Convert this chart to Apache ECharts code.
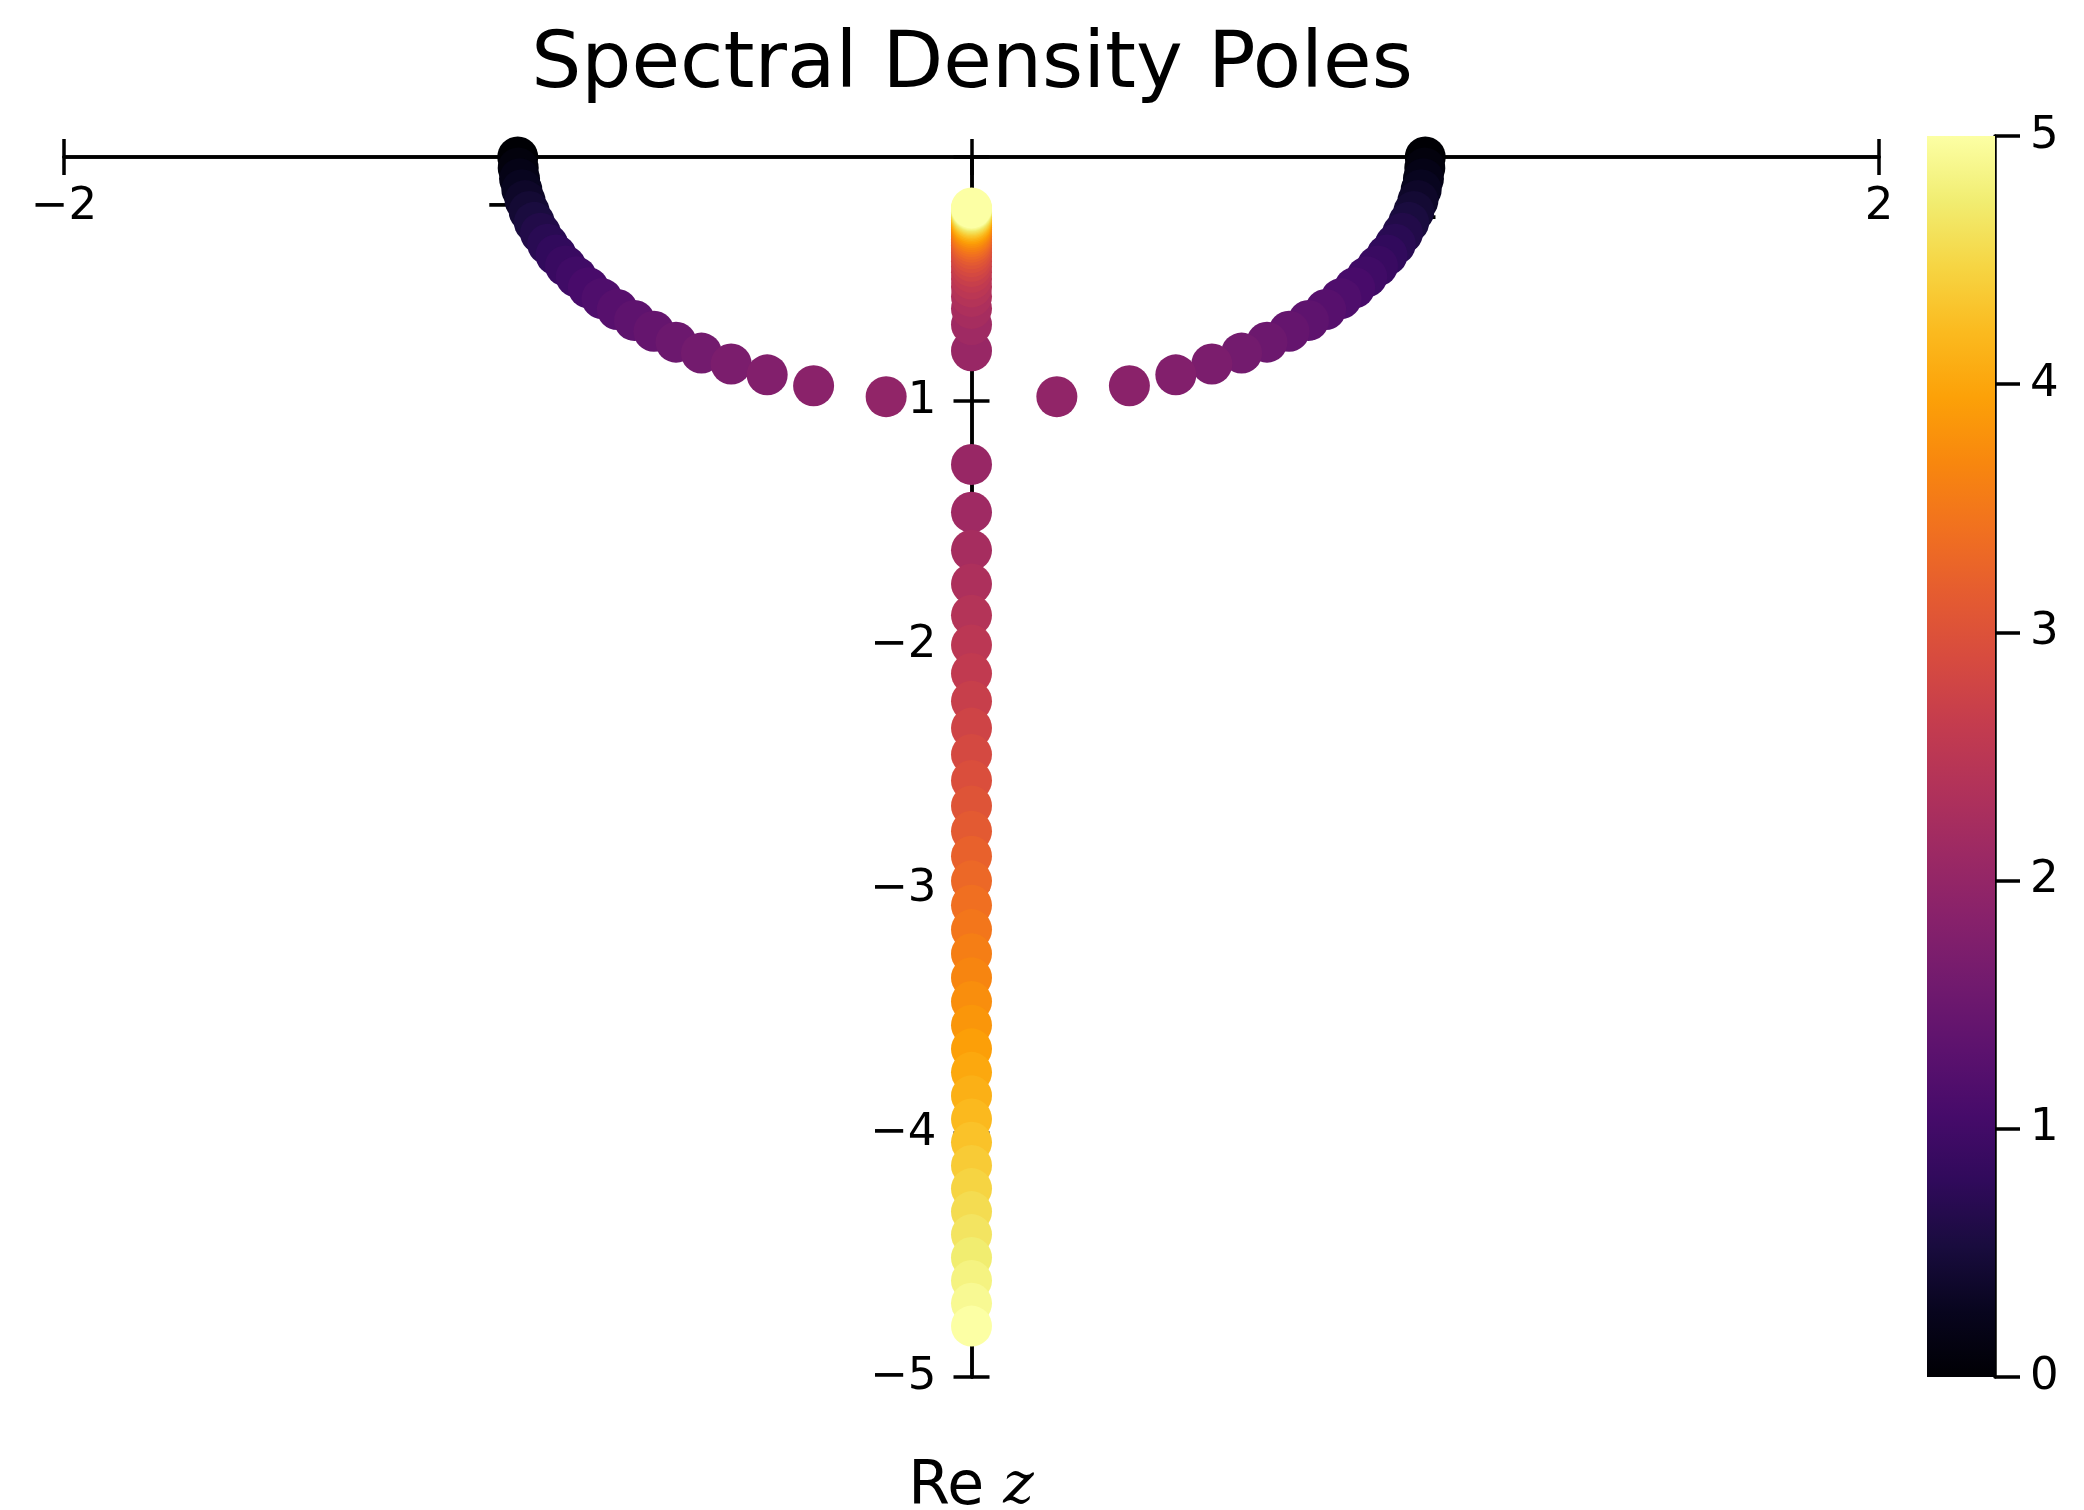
<!DOCTYPE html>
<html><head><meta charset="utf-8">
<script src="https://cdn.jsdelivr.net/npm/echarts@6/dist/echarts.min.js"></script>
<style>html,body{margin:0;padding:0;background:#fff}#c{width:2084px;height:1510px}</style>
</head><body><div id="c"></div>
<script>
// colour parameter of every pole pair (colour-bar value), 57 values
const paramT = [0, 0.0893, 0.1786, 0.2679, 0.3571, 0.4464, 0.5357, 0.625, 0.7143, 0.8036,
  0.8929, 0.9821, 1.0714, 1.1607, 1.25, 1.3393, 1.4286, 1.5179, 1.6071, 1.6964,
  1.7857, 1.875, 1.9643, 2.0536, 2.1429, 2.2321, 2.3214, 2.4107, 2.5, 2.5893,
  2.6786, 2.7679, 2.8571, 2.9464, 3.0357, 3.125, 3.2143, 3.3036, 3.3929, 3.4821,
  3.5714, 3.6607, 3.75, 3.8393, 3.9286, 4.0179, 4.1071, 4.1964, 4.2857, 4.375,
  4.4643, 4.5536, 4.6429, 4.7321, 4.8214, 4.9107, 5.0];
// first pole of each pair (left arc, then upper branch on the imaginary axis)
const poleARe = [-1, -0.999, -0.996, -0.991, -0.9839, -0.9748, -0.9635, -0.9499, -0.9341, -0.9157,
  -0.8948, -0.8711, -0.8444, -0.8144, -0.7806, -0.7427, -0.6999, -0.6512, -0.5952, -0.5297,
  -0.4503, -0.348, -0.1881, 0, 0, 0, 0, 0, 0, 0,
  0, 0, 0, 0, 0, 0, 0, 0, 0, 0,
  0, 0, 0, 0, 0, 0, 0, 0, 0, 0,
  0, 0, 0, 0, 0, 0, 0];
const poleAIm = [0, -0.0446, -0.0893, -0.1339, -0.1786, -0.2232, -0.2679, -0.3125, -0.3571, -0.4018,
  -0.4464, -0.4911, -0.5357, -0.5804, -0.625, -0.6696, -0.7143, -0.7589, -0.8036, -0.8482,
  -0.8929, -0.9375, -0.9821, -0.7938, -0.6868, -0.6205, -0.5714, -0.5324, -0.5, -0.4724,
  -0.4484, -0.4272, -0.4084, -0.3914, -0.376, -0.3619, -0.349, -0.3371, -0.3261, -0.3158,
  -0.3063, -0.2973, -0.2889, -0.281, -0.2736, -0.2666, -0.2599, -0.2536, -0.2477, -0.242,
  -0.2365, -0.2314, -0.2264, -0.2217, -0.2172, -0.2129, -0.2087];
// second pole of each pair (right arc, then lower branch on the imaginary axis)
const poleBRe = [1, 0.999, 0.996, 0.991, 0.9839, 0.9748, 0.9635, 0.9499, 0.9341, 0.9157,
  0.8948, 0.8711, 0.8444, 0.8144, 0.7806, 0.7427, 0.6999, 0.6512, 0.5952, 0.5297,
  0.4503, 0.348, 0.1881, 0, 0, 0, 0, 0, 0, 0,
  0, 0, 0, 0, 0, 0, 0, 0, 0, 0,
  0, 0, 0, 0, 0, 0, 0, 0, 0, 0,
  0, 0, 0, 0, 0, 0, 0];
const poleBIm = [0, -0.0446, -0.0893, -0.1339, -0.1786, -0.2232, -0.2679, -0.3125, -0.3571, -0.4018,
  -0.4464, -0.4911, -0.5357, -0.5804, -0.625, -0.6696, -0.7143, -0.7589, -0.8036, -0.8482,
  -0.8929, -0.9375, -0.9821, -1.2598, -1.4561, -1.6117, -1.75, -1.8783, -2.0, -2.1169,
  -2.2302, -2.3406, -2.4488, -2.555, -2.6597, -2.7631, -2.8653, -2.9665, -3.0668, -3.1663,
  -3.2652, -3.3634, -3.4611, -3.5582, -3.655, -3.7513, -3.8472, -3.9428, -4.0381, -4.133,
  -4.2278, -4.3222, -4.4164, -4.5104, -4.6042, -4.6979, -4.7913];
const xTicks = [-2, -1, 0, 1, 2];
const yTicks = [-5, -4, -3, -2, -1, 0];
const cbarTicks = [0, 1, 2, 3, 4, 5];
const titleText = 'Spectral Density Poles';

const INFERNO = ['#000004','#08051E','#190C3E','#300A5B','#460B6A','#5C126E','#711A6E','#87216B','#9C2964',
  '#B1325A','#C43C4E','#D74B3F','#E55C30','#F1711F','#F8870E','#FCA108','#FBBA1F','#F6D543','#F1ED71','#FCFFA4'];

const points = [];
for (let k = 0; k < paramT.length; k++) {
  points.push([poleARe[k], poleAIm[k], paramT[k]]);
  points.push([poleBRe[k], poleBIm[k], paramT[k]]);
}

const FONT = 'DejaVu Sans';
const minus = v => (v < 0 ? '\u2212' + Math.abs(v) : String(v));
const lineS = { color: '#000', width: 3.5 };

// main plot area
const G = { left: 64, right: 205, top: 157, bottom: 133 };
const gridW = 2084 - G.left - G.right;
const xMin = xTicks[0], xMax = xTicks[xTicks.length - 1];
const yOff = -gridW * (0 - xMin) / (xMax - xMin);   // move y axis onto Re z = 0

const chart = echarts.init(document.getElementById('c'), null, { renderer: 'canvas' });
const cbMax = cbarTicks[cbarTicks.length - 1];
chart.setOption({
  animation: false,
  backgroundColor: '#fff',
  grid: [
    Object.assign({ containLabel: false, outerBoundsMode: 'none' }, G),
    { left: 1927, width: 68, top: 136, bottom: 133, containLabel: false, outerBoundsMode: 'none' }
  ],
  xAxis: [
    { gridIndex: 0, type: 'value', min: xMin, max: xMax, interval: 1, position: 'top',
      axisLine: { onZero: false, lineStyle: lineS },
      axisTick: { length: 18, lineStyle: lineS },
      axisLabel: { inside: true, margin: 28, fontSize: 45, color: '#000', fontFamily: FONT,
        formatter: v => (v === 0 ? '' : minus(v)) },
      splitLine: { show: false } },
    { gridIndex: 0, type: 'value', min: xMin, max: xMax, interval: 1, position: 'top',
      axisLine: { onZero: false, lineStyle: lineS },
      axisTick: { inside: true, length: 18, lineStyle: lineS },
      axisLabel: { show: false }, splitLine: { show: false } },
    { gridIndex: 1, type: 'category', data: ['c'], show: false }
  ],
  yAxis: [
    { gridIndex: 0, type: 'value', min: yTicks[0], max: yTicks[yTicks.length - 1], interval: 1, position: 'left',
      offset: yOff,
      axisLine: { onZero: false, lineStyle: lineS },
      axisTick: { length: 18, lineStyle: lineS },
      axisLabel: { margin: 35, fontSize: 45, color: '#000', fontFamily: FONT,
        formatter: v => (v === 0 ? '' : minus(v)) },
      splitLine: { show: false } },
    { gridIndex: 0, type: 'value', min: yTicks[0], max: yTicks[yTicks.length - 1], interval: 1, position: 'left',
      offset: yOff,
      axisLine: { onZero: false, lineStyle: lineS },
      axisTick: { inside: true, length: 18, lineStyle: lineS },
      axisLabel: { show: false }, splitLine: { show: false } },
    { gridIndex: 1, type: 'value', min: cbarTicks[0], max: cbMax, interval: 1, position: 'right',
      axisLine: { show: true, onZero: false, lineStyle: lineS },
      axisTick: { show: true, length: 25, lineStyle: lineS },
      axisLabel: { margin: 35, fontSize: 45, color: '#000', fontFamily: FONT },
      splitLine: { show: false } }
  ],
  visualMap: [{ type: 'continuous', show: false, min: cbarTicks[0], max: cbMax, dimension: 2, seriesIndex: 0,
    inRange: { color: INFERNO } }],
  series: [
    { type: 'scatter', xAxisIndex: 0, yAxisIndex: 0, data: points, symbolSize: 41, z: 5,
      itemStyle: { opacity: 1 }, emphasis: { disabled: true }, silent: true },
    { type: 'bar', xAxisIndex: 2, yAxisIndex: 2, data: [cbMax], barWidth: '100%', silent: true,
      itemStyle: { color: new echarts.graphic.LinearGradient(0, 1, 0, 0,
        INFERNO.map((c, i) => ({ offset: i / (INFERNO.length - 1), color: c }))) } }
  ],
  graphic: [
    { type: 'text', x: 972, y: 66, style: { text: titleText, font: '79px "DejaVu Sans"', fill: '#000',
      align: 'center', verticalAlign: 'middle' } },
    { type: 'text', x: 971, y: 1488, style: { text: '{a|Re }{b|z}', align: 'center', verticalAlign: 'middle',
      rich: { a: { fontFamily: FONT, fontSize: 60, fill: '#000', color: '#000' },
              b: { fontFamily: 'DejaVu Serif', fontStyle: 'italic', fontSize: 58, fill: '#000', color: '#000' } } } }
  ]
});
</script></body></html>
